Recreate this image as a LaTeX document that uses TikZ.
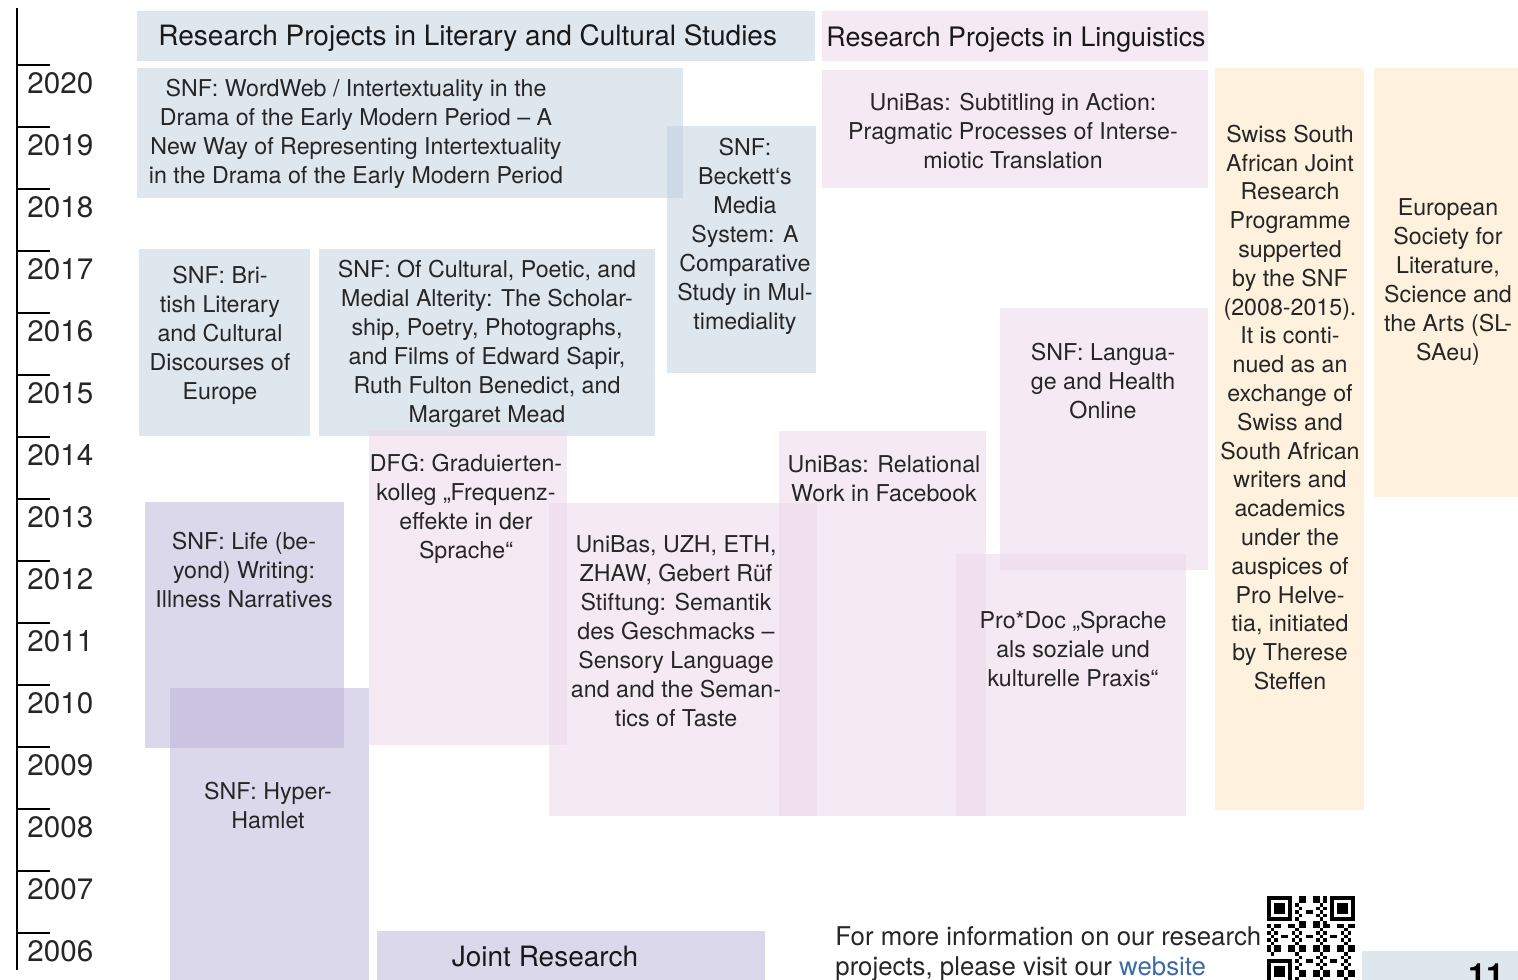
\documentclass[tikz,border=0pt]{standalone}
\usepackage{fontspec}
\setmainfont{TeX Gyre Heros}
\definecolor{litblue}{RGB}{189,205,221}
\definecolor{lingpink}{RGB}{235,213,231}
\definecolor{lifeviolet}{RGB}{185,177,215}
\definecolor{exchcream}{RGB}{253,229,189}
\definecolor{linkblue}{RGB}{61,107,168}
\tikzset{
	litbox/.style={fill=litblue, fill opacity=0.5},
	lingbox/.style={fill=lingpink, fill opacity=0.5},
	lifebox/.style={fill=lifeviolet, fill opacity=0.5},
	exchbox/.style={fill=exchcream, fill opacity=0.5},
	projtext/.style={align=center, inner sep=0pt, text=black!85, font=\fontsize{11.6}{14.5}\selectfont},
	headtext/.style={inner sep=0pt, text=black!90, font=\fontsize{14}{16}\selectfont},
	yeartext/.style={anchor=west, inner sep=0pt, text=black!85, font=\fontsize{14.8}{16}\selectfont}
}

\begin{document}
\begin{tikzpicture}[x=0.5pt, y=-0.5pt]
	\useasboundingbox (0,0) rectangle (1518,979);
	\draw[line width=1pt] (17,8) -- (17,970);
	\foreach \yr in {2006,...,2020}{
		\draw[line width=1pt] (17,{65+62*(2020-\yr)}) -- (50,{65+62*(2020-\yr)});
		\node[yeartext] (y\yr) at (27,{83+62*(2020-\yr)}) {\yr};
	}
	% literary and cultural studies
	\fill[litbox] (137,11) rectangle (815,61);
	\fill[litbox] (137,68) rectangle (683,198);
	\fill[litbox] (667,126) rectangle (816,373);
	\fill[litbox] (139,249) rectangle (310,436);
	\fill[litbox] (319,249) rectangle (655,436);
	\fill[lifebox] (145,502) rectangle (344,748);
	\fill[lifebox] (170,688) rectangle (369,990);
	\fill[lifebox] (377,931) rectangle (765,990);
	% linguistics
	\fill[lingbox] (822,11) rectangle (1208,61);
	\fill[lingbox] (822,70) rectangle (1208,188);
	\fill[lingbox] (369,430) rectangle (567,745);
	\fill[lingbox] (549,503) rectangle (817,816);
	\fill[lingbox] (779,431) rectangle (986,816);
	\fill[lingbox] (1000,308) rectangle (1208,570);
	\fill[lingbox] (956,554) rectangle (1186,816);
	% exchanges
	\fill[exchbox] (1215,68) rectangle (1364,810);
	\fill[exchbox] (1374,68) rectangle (1518,497);
	\fill[litbox] (1362,951) rectangle (1518,990);

	\node[headtext, anchor=west] (lithead) at (158,38) {Research Projects in Literary and Cultural Studies};
	\node[headtext, anchor=west, font=\fontsize{13.4}{16}\selectfont] (linghead) at (826,40) {Research Projects in Linguistics};
	\node[projtext] (wordweb) at (356,133.5) {SNF: WordWeb / Intertextuality in the\\Drama of the Early Modern Period -- A\\New Way of Representing Intertextuality\\in the Drama of the Early Modern Period};
	\node[projtext] (beckett) at (745,236.5) {SNF:\\Beckett‘s\\Media\\System: A\\Comparative\\Study in Mul-\\timediality};
	\node[projtext] (british) at (220,335) {SNF: Bri-\\tish Literary\\and Cultural\\Discourses of\\Europe};
	\node[projtext] (alterity) at (487,344) {SNF: Of Cultural, Poetic, and\\Medial Alterity: The Scholar-\\ship, Poetry, Photographs,\\and Films of Edward Sapir,\\Ruth Fulton Benedict, and\\Margaret Mead};
	\node[projtext] (illness) at (244,570) {SNF: Life (be-\\yond) Writing:\\Illness Narratives};
	\node[projtext] (hamlet) at (268,805.5) {SNF: Hyper-\\Hamlet};
	\node[headtext] (joint) at (545,957) {Joint Research};
	\node[projtext] (subtitling) at (1013,131) {UniBas: Subtitling in Action:\\Pragmatic Processes of Interse-\\miotic Translation};
	\node[projtext] (dfg) at (466,509) {DFG: Graduierten-\\kolleg „Frequenz-\\effekte in der\\Sprache“};
	\node[projtext] (taste) at (676,631) {UniBas, UZH, ETH,\\ZHAW, Gebert Rüf\\Stiftung: Semantik\\des Geschmacks --\\Sensory Language\\and and the Seman-\\tics of Taste};
	\node[projtext] (facebook) at (884,478.5) {UniBas: Relational\\Work in Facebook};
	\node[projtext] (health) at (1103,381) {SNF: Langua-\\ge and Health\\Online};
	\node[projtext] (prodoc) at (1073,649) {Pro*Doc „Sprache\\als soziale und\\kulturelle Praxis“};
	\node[projtext, font=\fontsize{11.6}{14.4}\selectfont] (swiss) at (1290,407.5) {Swiss South\\African Joint\\Research\\Programme\\supperted\\by the SNF\\(2008-2015).\\It is conti-\\nued as an\\exchange of\\Swiss and\\South African\\writers and\\academics\\under the\\auspices of\\Pro Helve-\\tia, initiated\\by Therese\\Steffen};
	\node[projtext] (slsa) at (1448,282) {European\\Society for\\Literature,\\Science and\\the Arts (SL-\\SAeu)};
	\node[projtext, align=left, anchor=west, font=\fontsize{12.9}{15}\selectfont] (moreinfo) at (835,954) {For more information on our research\\projects, please visit our \textcolor{linkblue}{website}};
	\node[anchor=north, inner sep=0pt, font=\bfseries\fontsize{16}{16}\selectfont] (pagenum) at (1486,963) {11};

	% qr code
	\foreach \fx/\fy in {0/0,18/0,0/18}{
		\fill (1267+3.5*\fx,896+3.5*\fy) rectangle +(24.5,24.5);
		\fill[white] (1270.5+3.5*\fx,899.5+3.5*\fy) rectangle +(17.5,17.5);
		\fill (1274+3.5*\fx,903+3.5*\fy) rectangle +(10.5,10.5);
	}
	\foreach \i in {0,...,24}{
		\foreach \j in {0,...,24}{
			\pgfmathtruncatemacro\qrbit{(mod(\i*\i*3+\j*\j*5+\i*\j*7+\i+2*\j,7)<3) && !((\i<8 && \j<8) || (\i>16 && \j<8) || (\i<8 && \j>16))}
			\ifnum\qrbit=1 \fill (1267+3.5*\i,896+3.5*\j) rectangle +(3.5,3.5); \fi
		}
	}
\end{tikzpicture}
\end{document}
